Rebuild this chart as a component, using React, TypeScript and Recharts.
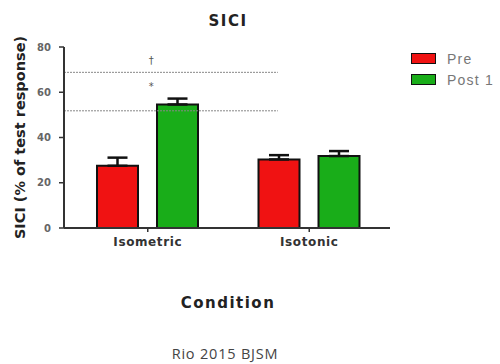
import React from 'react';
import {
  BarChart,
  Bar,
  XAxis,
  YAxis,
  ErrorBar,
  ReferenceLine,
  ReferenceDot,
  Legend,
} from 'recharts';

// Conditions on the x axis
const conditions = ['Isometric', 'Isotonic'];
// Series names in legend order
const seriesNames = ['Pre', 'Post 1'];
// SICI (% of test response), mean and SEM
const preValues = [27.5, 30.3];
const preErrors = [3.6, 1.9];
const post1Values = [54.6, 31.8];
const post1Errors = [2.6, 2.2];
// Dotted significance levels and the share of the axis (0–1) they run along
const thresholdLevels = [68.8, 51.8];
const thresholdSpan = 0.656;
// Significance markers above the Isometric pair
const markerSymbols = ['†', '*'];
const markerCondition = ['Isometric', 'Isometric'];
const markerY = [74.2, 62.4];
const yTicks = [0, 20, 40, 60, 80];

const RED = '#f01212';
const GREEN = '#19ad19';
const INK = '#222';

const data = conditions.map((condition, i) => ({
  condition,
  pre: preValues[i],
  preErr: [0, preErrors[i]],
  post1: post1Values[i],
  post1Err: [0, post1Errors[i]],
}));

const boldFont = '"DejaVu Sans", Verdana, sans-serif';

function LegendBox(props: any) {
  const items = [...(props.payload || [])].sort(
    (a: any, b: any) => seriesNames.indexOf(a.value) - seriesNames.indexOf(b.value)
  );
  return (
    <div style={{ fontFamily: '"Liberation Sans", Arial, sans-serif' }}>
      {items.map((item: any) => (
        <div
          key={item.value}
          style={{ display: 'flex', alignItems: 'center', height: 21 }}
        >
          <span
            style={{
              display: 'inline-block',
              width: 23,
              height: 9,
              background: item.color,
              border: '1.5px solid #111',
              marginRight: 11,
            }}
          />
          <span style={{ fontSize: 14, color: '#777', letterSpacing: 1.2 }}>
            {item.value}
          </span>
        </div>
      ))}
    </div>
  );
}

function YLabel(props: any) {
  const vb = props.viewBox || {};
  const x = 20;
  const y = vb.y + vb.height / 2;
  return (
    <text
      x={x}
      y={y}
      transform={`rotate(-90 ${x} ${y})`}
      textAnchor="middle"
      dominantBaseline="central"
      fontFamily={boldFont}
      fontWeight="bold"
      fontSize={14.5}
      fill={INK}
    >
      SICI (% of test response)
    </text>
  );
}

// Dotted level line that runs from the y axis over part of the plot width
function PartialLine(props: any) {
  const { x1, y1, x2, y2 } = props;
  const end = x1 + (x2 - x1) * thresholdSpan;
  return (
    <line
      x1={x1}
      y1={y1}
      x2={end}
      y2={y2}
      stroke="#888"
      strokeWidth={1}
      strokeDasharray="2 1"
    />
  );
}

export default function App() {
  return (
    <div
      style={{
        position: 'absolute',
        left: 0,
        top: 0,
        width: 500,
        height: 364,
        background: '#fff',
      }}
    >
      <div
        style={{
          position: 'absolute',
          left: 0,
          width: 456,
          top: 12,
          textAlign: 'center',
          fontFamily: boldFont,
          fontWeight: 'bold',
          fontSize: 15,
          letterSpacing: 1.5,
          color: INK,
        }}
      >
        SICI
      </div>
      <BarChart
        width={500}
        height={364}
        data={data}
        margin={{ top: 47, right: 110, bottom: 106, left: 8 }}
        barSize={41}
        barGap={19}
      >
        <XAxis
          dataKey="condition"
          padding={{ left: 3, right: 0 }}
          height={30}
          axisLine={{ stroke: '#333', strokeWidth: 2 }}
          tickLine={{ stroke: '#333', strokeWidth: 1.5 }}
          tickSize={4}
          tickMargin={5}
          tick={{
            fontFamily: boldFont,
            fontWeight: 'bold',
            fontSize: 12,
            letterSpacing: 0.6,
            fill: '#333',
          }}
        />
        <YAxis
          width={56}
          domain={[0, 80]}
          ticks={yTicks}
          interval={0}
          axisLine={{ stroke: '#333', strokeWidth: 2 }}
          tickLine={{ stroke: '#333', strokeWidth: 1.5 }}
          tickSize={5}
          tickMargin={8}
          tick={{
            fontFamily: boldFont,
            fontWeight: 'bold',
            fontSize: 10,
            fill: '#666',
          }}
          label={<YLabel />}
        />
        {thresholdLevels.map((level) => (
          <ReferenceLine key={level} y={level} shape={PartialLine} />
        ))}
        {markerSymbols.map((symbol, i) => (
          <ReferenceDot
            key={symbol}
            x={markerCondition[i]}
            y={markerY[i]}
            r={1}
            fill="none"
            stroke="none"
            label={{
              value: symbol,
              position: 'center',
              fill: '#555',
              fontSize: 10,
              fontFamily: boldFont,
              dx: 3.5,
            }}
          />
        ))}
        <Bar
          dataKey="pre"
          name="Pre"
          fill={RED}
          stroke="#111"
          strokeWidth={2}
          isAnimationActive={false}
        >
          <ErrorBar
            dataKey="preErr"
            direction="y"
            width={10}
            stroke="#111"
            strokeWidth={2.5}
            isAnimationActive={false}
          />
        </Bar>
        <Bar
          dataKey="post1"
          name="Post 1"
          fill={GREEN}
          stroke="#111"
          strokeWidth={2}
          isAnimationActive={false}
        >
          <ErrorBar
            dataKey="post1Err"
            direction="y"
            width={10}
            stroke="#111"
            strokeWidth={2.5}
            isAnimationActive={false}
          />
        </Bar>
        <Legend
          layout="vertical"
          align="center"
          verticalAlign="middle"
          wrapperStyle={{
            position: 'absolute',
            left: 411,
            top: 48,
            width: 'auto',
            height: 'auto',
          }}
          content={<LegendBox />}
        />
      </BarChart>
      <div
        style={{
          position: 'absolute',
          left: 0,
          width: 456,
          top: 294,
          textAlign: 'center',
          fontFamily: boldFont,
          fontWeight: 'bold',
          fontSize: 15,
          letterSpacing: 1.5,
          color: INK,
        }}
      >
        Condition
      </div>
      <div
        style={{
          position: 'absolute',
          left: 0,
          width: 450,
          top: 344,
          textAlign: 'center',
          fontFamily: '"Open Sans", "Liberation Sans", sans-serif',
          fontSize: 14.5,
          letterSpacing: 0.8,
          color: '#444',
        }}
      >
        Rio 2015 BJSM
      </div>
    </div>
  );
}
